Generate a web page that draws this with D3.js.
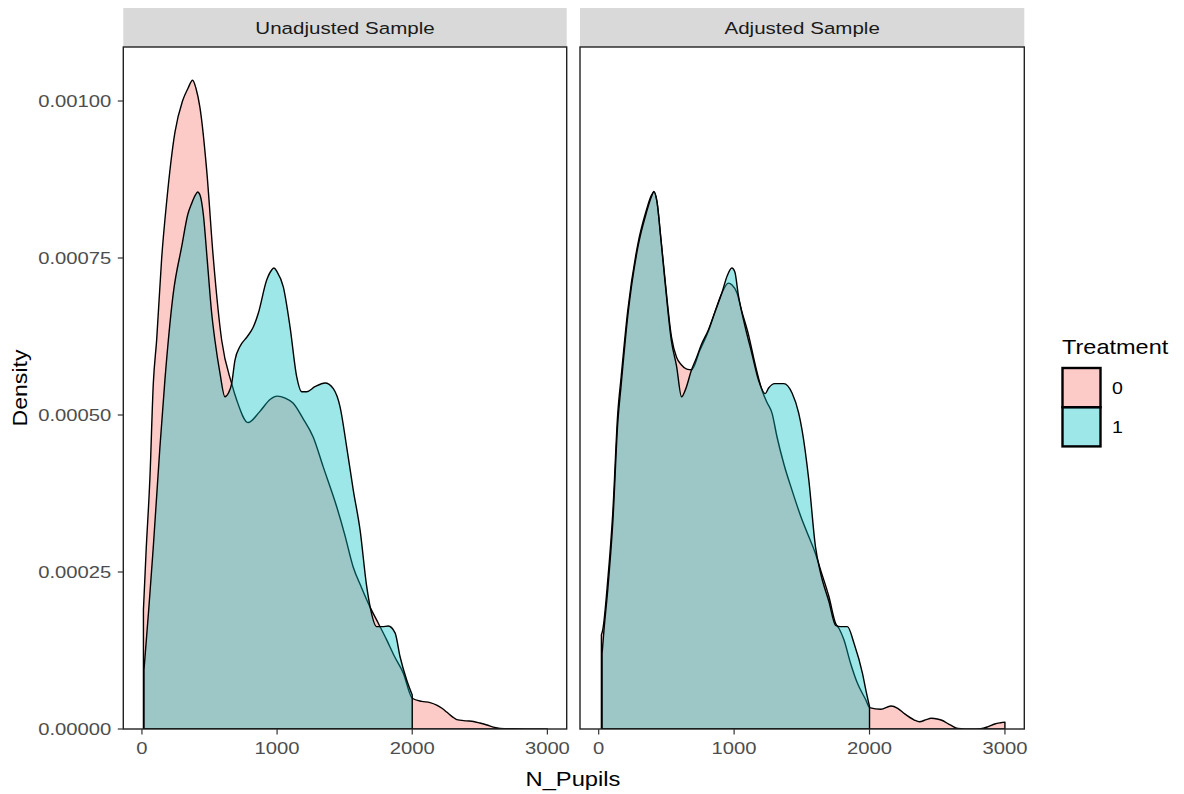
<!DOCTYPE html>
<html><head><meta charset="utf-8">
<script src="https://cdn.jsdelivr.net/npm/d3@7"></script>
<style>body{margin:0;background:#fff}svg{display:block}text{font-family:Arial,"Liberation Sans",sans-serif}</style>
</head><body><svg id="c" width="1184" height="794"></svg>
<script>
// ---------------- data ----------------
const panels = ["Unadjusted Sample", "Adjusted Sample"];
const groups = ["0", "1"];
const groupColors = ["#F8766D", "#00BFC4"];
const xTicks = [0, 1000, 2000, 3000];
const xTickLabels = ["0", "1000", "2000", "3000"];
const yTicks = [0, 0.00025, 0.0005, 0.00075, 0.001];
const yTickLabels = ["0.00000", "0.00025", "0.00050", "0.00075", "0.00100"];

// Unadjusted sample, Treatment 0
const unadj0X = [11, 30, 59, 84, 109, 146, 183, 244, 300, 340, 375, 400, 429, 479, 528, 590, 664, 701, 785, 870, 950, 1000, 1060, 1118, 1190, 1267, 1342, 1441, 1500, 1563, 1625, 1688, 1750, 1811, 1870, 1934, 2000, 2070, 2132, 2181, 2220, 2255, 2300, 2329, 2400, 2453, 2500, 2552, 2600, 2650, 2750, 2850, 3000];
const unadj0Y = [0.00019, 0.00028, 0.00040, 0.00055, 0.00062, 0.00075, 0.00084, 0.00095, 0.00100, 0.00102, 0.001033, 0.00102, 0.00099, 0.00089, 0.00075, 0.000619, 0.00055, 0.000524, 0.000488, 0.000505, 0.000525, 0.00053, 0.000527, 0.000519, 0.000495, 0.000465, 0.000417, 0.000354, 0.00031, 0.000258, 0.000225, 0.000194, 0.000168, 0.000142, 0.000115, 0.000089, 0.000049, 0.000044, 0.000042, 0.000038, 0.000033, 0.000027, 0.000019, 0.000015, 0.000013, 0.000012, 0.0000095, 0.0000064, 0.000003, 0.000001, 0.0000003, 0.0000001, 0];
// Unadjusted sample, Treatment 1
const unadj1X = [15, 50, 84, 133, 170, 232, 294, 340, 368, 395, 412, 430, 454, 483, 516, 540, 577, 614, 640, 664, 688, 725, 780, 824, 861, 923, 960, 977, 1000, 1046, 1096, 1145, 1182, 1219, 1280, 1355, 1416, 1466, 1515, 1564, 1614, 1663, 1688, 1737, 1780, 1823, 1873, 1910, 1959, 2000];
const unadj1Y = [0.000094, 0.00019, 0.00029, 0.000449, 0.000556, 0.000694, 0.000768, 0.00082, 0.000837, 0.00085, 0.000855, 0.00085, 0.00082, 0.000747, 0.000662, 0.000619, 0.000567, 0.000529, 0.000535, 0.00055, 0.000587, 0.000609, 0.000625, 0.00064, 0.000662, 0.000715, 0.000731, 0.000734, 0.000728, 0.000704, 0.00064, 0.000561, 0.000537, 0.000537, 0.000545, 0.000551, 0.000542, 0.000513, 0.000449, 0.00038, 0.000317, 0.000227, 0.000195, 0.000163, 0.000163, 0.000164, 0.000153, 0.000115, 0.000078, 0.000054];
// Adjusted sample, Treatment 0
const adj0X = [20, 30, 67, 104, 141, 166, 215, 290, 352, 390, 408, 430, 460, 488, 537, 575, 610, 650, 686, 747, 809, 860, 909, 958, 985, 1020, 1057, 1106, 1156, 1205, 1243, 1280, 1317, 1370, 1428, 1490, 1552, 1600, 1639, 1700, 1750, 1775, 1811, 1861, 1911, 1973, 2000, 2084, 2158, 2208, 2260, 2331, 2368, 2420, 2455, 2500, 2529, 2600, 2653, 2752, 2820, 2876, 2925, 2970, 3000];
const adj0Y = [0.00015, 0.000158, 0.000237, 0.000344, 0.000503, 0.000561, 0.000667, 0.000773, 0.000826, 0.00085, 0.000855, 0.00084, 0.00078, 0.00072, 0.000625, 0.000592, 0.00058, 0.000573, 0.000572, 0.000603, 0.000633, 0.000665, 0.000694, 0.00071, 0.000707, 0.000695, 0.000665, 0.000628, 0.00058, 0.00054, 0.00052, 0.000503, 0.000465, 0.00042, 0.00038, 0.00034, 0.000306, 0.00028, 0.000253, 0.000211, 0.000168, 0.00016, 0.000142, 0.000104, 0.0000727, 0.0000462, 0.000034, 0.0000314, 0.0000366, 0.000033, 0.000024, 0.0000143, 0.0000116, 0.000015, 0.000017, 0.000016, 0.0000143, 0.000006, 0.000001, 0, 0.0000005, 0.0000037, 0.000008, 0.00001, 0.000011];
// Adjusted sample, Treatment 1
const adj1X = [25, 40, 67, 104, 141, 166, 215, 290, 352, 390, 408, 430, 460, 488, 537, 575, 612, 640, 686, 720, 760, 809, 860, 909, 950, 983, 1005, 1032, 1082, 1131, 1181, 1230, 1255, 1300, 1367, 1428, 1477, 1502, 1552, 1601, 1639, 1700, 1750, 1787, 1837, 1886, 1948, 1975, 2000];
const adj1Y = [0.00012, 0.00016, 0.000222, 0.000328, 0.000488, 0.000548, 0.000658, 0.000768, 0.000822, 0.000848, 0.000856, 0.00084, 0.000778, 0.000716, 0.000618, 0.000578, 0.000529, 0.00054, 0.000572, 0.00059, 0.000613, 0.000635, 0.000665, 0.000694, 0.000722, 0.000734, 0.000728, 0.00069, 0.00064, 0.000598, 0.000555, 0.000534, 0.000543, 0.00055, 0.00055, 0.000535, 0.000503, 0.000476, 0.000396, 0.00029, 0.000248, 0.000203, 0.000165, 0.000163, 0.000163, 0.000136, 0.0000887, 0.00006, 0.000036];

const series = [
  [[unadj0X, unadj0Y], [unadj1X, unadj1Y]],
  [[adj0X, adj0Y], [adj1X, adj1Y]]
];

// ---------------- layout ----------------
const svg = d3.select("#c");
const panelBoxes = [{x0: 123.3, x1: 566.7}, {x0: 580, x1: 1024.3}];
const panelTop = 47, panelBottom = 729, stripTop = 8;
const fillAlpha = 0.38;

function txt(g, x, y, s, o) {
  return g.append("text")
    .attr("transform", `translate(${x},${y}) rotate(${o.rot || 0}) scale(${o.sx || 1},1)`)
    .attr("text-anchor", o.anchor || "start")
    .attr("font-size", o.size)
    .attr("fill", o.fill || "#000")
    .attr("dy", o.dy || 0)
    .text(s);
}

const yScale = d3.scaleLinear().domain([0, 0.001086]).range([panelBottom, panelTop]);

panelBoxes.forEach((pb, pi) => {
  const x = d3.scaleLinear().domain([-138, 3143]).range([pb.x0, pb.x1]);
  const g = svg.append("g");
  g.append("rect").attr("x", pb.x0).attr("y", stripTop).attr("width", pb.x1 - pb.x0).attr("height", panelTop - stripTop).attr("fill", "#d9d9d9");
  txt(g, (pb.x0 + pb.x1) / 2, (stripTop + panelTop) / 2 + 1, panels[pi], {size: 17, sx: 1.21, anchor: "middle", fill: "#1a1a1a", dy: "0.35em"});

  const clipId = "clip" + pi;
  svg.append("clipPath").attr("id", clipId).append("rect").attr("x", pb.x0).attr("y", panelTop).attr("width", pb.x1 - pb.x0).attr("height", panelBottom - panelTop);
  const pg = g.append("g").attr("clip-path", `url(#${clipId})`);

  series[pi].forEach((s, gi) => {
    const pts = s[0].map((v, i) => [v, s[1][i]]);
    const area = d3.area().x(d => x(d[0])).y0(yScale(0)).y1(d => yScale(d[1])).curve(d3.curveMonotoneX);
    pg.append("path").attr("d", area(pts))
      .attr("fill", groupColors[gi]).attr("fill-opacity", fillAlpha)
      .attr("stroke", "#000").attr("stroke-width", 1.4).attr("stroke-linejoin", "round");
  });

  g.append("rect").attr("x", pb.x0).attr("y", panelTop).attr("width", pb.x1 - pb.x0).attr("height", panelBottom - panelTop)
    .attr("fill", "none").attr("stroke", "#222").attr("stroke-width", 1.4);

  xTicks.forEach((t, i) => {
    g.append("line").attr("x1", x(t)).attr("x2", x(t)).attr("y1", panelBottom).attr("y2", panelBottom + 5.5).attr("stroke", "#333").attr("stroke-width", 1.2);
    txt(g, x(t), panelBottom + 19, xTickLabels[i], {size: 17, sx: 1.19, anchor: "middle", fill: "#4d4d4d", dy: "0.35em"});
  });
  if (pi === 0) {
    yTicks.forEach((t, i) => {
      g.append("line").attr("x1", pb.x0 - 5.5).attr("x2", pb.x0).attr("y1", yScale(t)).attr("y2", yScale(t)).attr("stroke", "#333").attr("stroke-width", 1.2);
      txt(g, pb.x0 - 12, yScale(t), yTickLabels[i], {size: 17, sx: 1.19, anchor: "end", fill: "#4d4d4d", dy: "0.35em"});
    });
  }
});

txt(svg, 573, 786, "N_Pupils", {size: 21, sx: 1.13, anchor: "middle"});
txt(svg, 27, 388, "Density", {size: 21, sx: 1.1, anchor: "middle", rot: -90});

txt(svg, 1062, 354, "Treatment", {size: 21, sx: 1.12});
groups.forEach((gname, i) => {
  const ky = 368 + i * 39.2;
  svg.append("rect").attr("x", 1062.5).attr("y", ky).attr("width", 38).attr("height", 39.2)
    .attr("fill", groupColors[i]).attr("fill-opacity", fillAlpha).attr("stroke", "#000").attr("stroke-width", 2.4);
  txt(svg, 1112, ky + 20, gname, {size: 17, sx: 1.15, dy: "0.35em"});
});
</script></body></html>
